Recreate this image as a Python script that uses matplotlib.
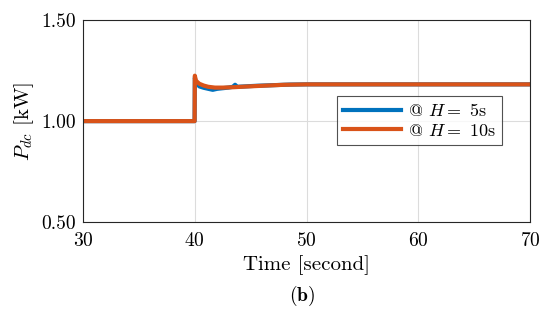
import matplotlib
matplotlib.use("Agg")
import matplotlib.pyplot as plt

plt.rcParams['font.family'] = 'serif'
plt.rcParams['font.serif'] = ['cmr10']
plt.rcParams['mathtext.fontset'] = 'cm'
plt.rcParams['axes.formatter.use_mathtext'] = True

t_h5 = [30, 39.98, 40.0, 40.1, 40.4, 40.8, 41.2, 41.6, 42.0, 42.5, 43.0, 43.4, 43.6, 43.8, 44.5, 45.5, 47.0, 48.5, 50.0, 55.0, 60.0, 70.0]
p_h5 = [1.00, 1.00, 1.215, 1.19, 1.172, 1.165, 1.160, 1.155, 1.160, 1.163, 1.166, 1.170, 1.180, 1.170, 1.172, 1.175, 1.178, 1.181, 1.182, 1.182, 1.182, 1.182]
t_h10 = [30, 39.98, 40.0, 40.1, 40.4, 40.8, 41.2, 41.8, 42.5, 43.5, 44.5, 46.0, 48.0, 50.0, 55.0, 60.0, 70.0]
p_h10 = [1.00, 1.00, 1.225, 1.20, 1.185, 1.176, 1.170, 1.166, 1.166, 1.168, 1.171, 1.175, 1.180, 1.182, 1.182, 1.182, 1.182]

xticks = [30, 40, 50, 60, 70]
yticks = [0.50, 1.00, 1.50]

fig = plt.figure(figsize=(5.5, 3.2), dpi=100)
ax = fig.add_axes([0.151, 0.306, 0.813, 0.631])
ax.plot(t_h5, p_h5, color='#0072BD', lw=3, label=r'@ $H=$ 5s')
ax.plot(t_h10, p_h10, color='#D95319', lw=3, label=r'@ $H=$ 10s')
ax.set_xlim(30, 70)
ax.set_ylim(0.5, 1.5)
ax.set_xticks(xticks)
ax.set_yticks(yticks)
ax.set_yticklabels([f'{v:.2f}' for v in yticks])
ax.grid(True, color='#dcdcdc', lw=0.8)
ax.tick_params(labelsize=14, length=0)
ax.tick_params(axis='x', pad=7)
ax.tick_params(axis='y', pad=5)
for s in ax.spines.values():
    s.set_linewidth(0.8)
    s.set_color('#262626')
ax.set_xlabel('Time [second]', fontsize=15, labelpad=4)
ax.set_ylabel(r'$P_{dc}$ [kW]', fontsize=15, labelpad=4)
leg = ax.legend(loc='upper left', bbox_to_anchor=(0.547, 0.67), fontsize=13,
                frameon=True, fancybox=False, edgecolor='#262626',
                handlelength=3.2, borderpad=0.35, labelspacing=0.2, handletextpad=0.4)
leg.get_frame().set_linewidth(0.8)
fig.text(0.55, 0.06, r'$\mathbf{(b)}$', ha='center', fontsize=14)
fig.savefig('out.png', dpi=100)
